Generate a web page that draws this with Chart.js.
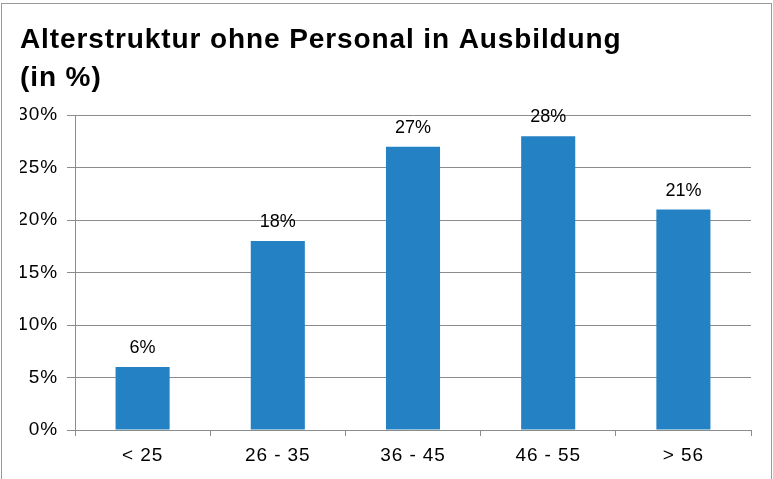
<!DOCTYPE html>
<html>
<head>
<meta charset="utf-8">
<script src="https://cdn.jsdelivr.net/npm/chart.js@4"></script>
<style>
  html, body { margin: 0; padding: 0; background: #fff; overflow: hidden; }
  #wrap { position: relative; width: 773px; height: 479px; }
  #frame {
    position: absolute; left: 1px; top: 3px; width: 769px; height: 490px;
    border: 1.5px solid #999; pointer-events: none;
  }
</style>
</head>
<body>
<div id="wrap">
  <canvas id="chart" width="773" height="479"></canvas>
  <div id="frame"></div>
</div>
<script>
  const categories = ["< 25", "26 - 35", "36 - 45", "46 - 55", "> 56"];
  const values = [6, 18, 27, 28, 21];
  const titleLines = ["Alterstruktur ohne Personal in Ausbildung", "(in %)"];

  const fontFamily = '"Liberation Sans", Arial, sans-serif';
  const gridColor = '#8c8c8c';

  // etwas breitere Schrift wie im Original (Titel + Achsen)
  const spacing = {
    id: 'spacing',
    beforeDraw(chart) {
      chart.ctx.letterSpacing = '0.9px';
    }
  };

  // Prozentwerte ueber den Balken
  const valueLabels = {
    id: 'valueLabels',
    afterDatasetsDraw(chart) {
      const ctx = chart.ctx;
      const meta = chart.getDatasetMeta(0);
      ctx.save();
      ctx.letterSpacing = '0px';
      ctx.font = '18px ' + fontFamily;
      ctx.fillStyle = '#000';
      ctx.textAlign = 'center';
      ctx.textBaseline = 'alphabetic';
      meta.data.forEach((bar, i) => {
        ctx.fillText(values[i] + '%', bar.x, bar.y - 14);
      });
      ctx.restore();
    }
  };

  new Chart(document.getElementById('chart'), {
    type: 'bar',
    data: {
      labels: categories,
      datasets: [{
        data: values,
        backgroundColor: '#2481c4',
        borderWidth: 0,
        barPercentage: 0.4,
        categoryPercentage: 1
      }]
    },
    options: {
      responsive: false,
      animation: false,
      layout: { padding: { left: 20, right: 22, top: 0, bottom: 0 } },
      plugins: {
        legend: { display: false },
        tooltip: { enabled: false },
        title: {
          display: true,
          text: titleLines,
          align: 'start',
          color: '#000',
          font: { family: fontFamily, size: 28, weight: 'bold', lineHeight: 1.36 },
          padding: { top: 21, bottom: 18 }
        }
      },
      scales: {
        x: {
          grid: {
            offset: true,
            drawOnChartArea: false,
            drawTicks: true,
            tickLength: 6,
            color: gridColor
          },
          border: { color: gridColor, width: 1 },
          ticks: {
            color: '#000',
            padding: 8,
            font: { family: fontFamily, size: 19 }
          },
          afterFit(scale) { scale.height = 49; }
        },
        y: {
          min: 0,
          max: 30,
          ticks: {
            stepSize: 5,
            color: '#000',
            padding: 9,
            font: { family: fontFamily, size: 19 },
            callback: v => v + '%'
          },
          grid: {
            color: gridColor,
            tickLength: 8
          },
          border: { color: gridColor, width: 1 },
          afterFit(scale) { scale.width = 55; }
        }
      }
    },
    plugins: [spacing, valueLabels]
  });
</script>
</body>
</html>
